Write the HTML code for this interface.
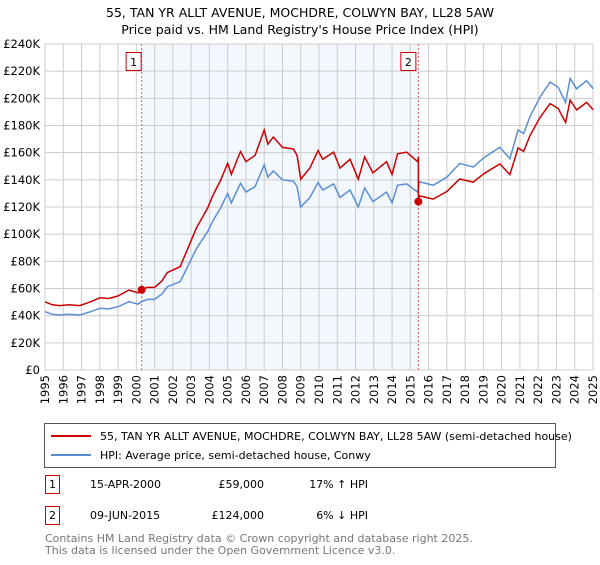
<!DOCTYPE html>
<html><head><meta charset="utf-8"><style>
body{margin:0;background:#fff;font-family:"Liberation Sans","DejaVu Sans",sans-serif}
svg text{font-family:"DejaVu Sans","Liberation Sans",sans-serif}
</style></head><body>
<svg id="c" width="600" height="560" viewBox="0 0 600 560" xmlns="http://www.w3.org/2000/svg">
<text x="300" y="17" text-anchor="middle" font-size="12.5">55, TAN YR ALLT AVENUE, MOCHDRE, COLWYN BAY, LL28 5AW</text>
<text x="300" y="34" text-anchor="middle" font-size="12.5">Price paid vs. HM Land Registry's House Price Index (HPI)</text>
<g id="plot"></g>
<g>
<rect x="44.5" y="423.5" width="511" height="44" fill="#fff" stroke="#555"/>
<line x1="51" y1="436" x2="91" y2="436" stroke="#cc0000" stroke-width="2"/>
<text x="100" y="440" font-size="11">55, TAN YR ALLT AVENUE, MOCHDRE, COLWYN BAY, LL28 5AW (semi-detached house)</text>
<line x1="51" y1="455" x2="91" y2="455" stroke="#5b8fd4" stroke-width="2"/>
<text x="100" y="459" font-size="11">HPI: Average price, semi-detached house, Conwy</text>
</g>
<g font-size="11">
<rect x="45.5" y="475.5" width="14" height="18" fill="#fff" stroke="#cc0000"/>
<text x="52.5" y="488" text-anchor="middle">1</text>
<text x="90" y="488">15-APR-2000</text><text x="264" y="488" text-anchor="end">£59,000</text><text x="368" y="488" text-anchor="end">17% ↑ HPI</text>
<rect x="45.5" y="506.5" width="14" height="18" fill="#fff" stroke="#cc0000"/>
<text x="52.5" y="519" text-anchor="middle">2</text>
<text x="90" y="519">09-JUN-2015</text><text x="264" y="519" text-anchor="end">£124,000</text><text x="368" y="519" text-anchor="end">6% ↓ HPI</text>
</g>
<text x="45" y="542" font-size="11" fill="#777">Contains HM Land Registry data © Crown copyright and database right 2025.</text>
<text x="45" y="554" font-size="11" fill="#777">This data is licensed under the Open Government Licence v3.0.</text>
</svg>
<script>
const hpiYears=[1995.0,1995.4,1995.8,1996.3,1996.9,1997.4,1998.0,1998.5,1999.0,1999.6,2000.1,2000.3,2000.6,2001.0,2001.4,2001.7,2002.4,2002.85,2003.3,2003.9,2004.2,2004.6,2005.0,2005.2,2005.7,2006.0,2006.5,2007.0,2007.2,2007.5,2008.0,2008.6,2008.8,2009.0,2009.5,2009.95,2010.2,2010.8,2011.15,2011.7,2012.15,2012.5,2012.95,2013.7,2014.0,2014.3,2014.8,2015.4,2015.5,2016.25,2017.0,2017.7,2018.45,2019.0,2019.45,2019.9,2020.45,2020.9,2021.2,2021.55,2022.1,2022.65,2023.1,2023.5,2023.75,2024.1,2024.65,2024.9,2025.0];
const hpiValues=[42.9,41,40.5,41,40.5,42.5,45.4,45,46.6,50.3,48.5,50.5,52,52,56,61.3,65,77.3,89.6,101.8,110,119,130,123,137.4,131,135,151,142,146.5,140,139,135,120,127,138,132.5,137,127,132.5,120,134,124,131,123,136,137,131,138.6,136,142,152,149.5,156,160,164,155.5,176.7,174,186.5,201,212,208,197,214.7,207,213,209,207];
const saleYears=[2000.29,2015.44];
const salePrices=[59,124];
const saleLabels=["1","2"];
const yTicks=[0,20,40,60,80,100,120,140,160,180,200,220,240];
const xTicks=[1995,1996,1997,1998,1999,2000,2001,2002,2003,2004,2005,2006,2007,2008,2009,2010,2011,2012,2013,2014,2015,2016,2017,2018,2019,2020,2021,2022,2023,2024,2025];
const NS="http://www.w3.org/2000/svg";
const X0=45,X1=593,Y0=370,Y1=44;
const xs=y=>X0+(y-1995)/30*(X1-X0);
const ys=v=>Y0-v/240*(Y0-Y1);
const g=document.getElementById('plot');
function mk(t,a){const e=document.createElementNS(NS,t);for(const k in a)e.setAttribute(k,a[k]);g.appendChild(e);return e;}
const sh=mk('rect',{x:xs(saleYears[0]),y:Y1,width:xs(saleYears[1])-xs(saleYears[0]),height:Y0-Y1,fill:'#eef3fd',opacity:0.7});


yTicks.forEach(v=>{
 const l=mk('line',{x1:X0,x2:X1,y1:ys(v),y2:ys(v),stroke:'#cccccc'});
 
 
 const t=mk('text',{x:40,y:ys(v)+4,'text-anchor':'end','font-size':'11.5'});
 t.textContent=v===0?'£0':'£'+v+'K';
 
 
});
xTicks.forEach(yr=>{
 const l=mk('line',{x1:xs(yr),x2:xs(yr),y1:Y1,y2:Y0,stroke:'#cccccc'});
 
 
 const t=mk('text',{x:0,y:0,'text-anchor':'end','font-size':'11.5',transform:`translate(${xs(yr)+4},375) rotate(-90)`});
 t.textContent=yr;
 
 
});
const fr=mk('rect',{x:X0,y:Y1,width:X1-X0,height:Y0-Y1,fill:'none',stroke:'#cccccc'});


function hpiAt(y){for(let i=1;i<hpiYears.length;i++){if(y<=hpiYears[i]){const f=(y-hpiYears[i-1])/(hpiYears[i]-hpiYears[i-1]);return hpiValues[i-1]+f*(hpiValues[i]-hpiValues[i-1]);}}return hpiValues[hpiValues.length-1];}
const r1=salePrices[0]/hpiAt(saleYears[0]),r2=salePrices[1]/hpiAt(saleYears[1]);
let redPts=[];
hpiYears.forEach((yr,i)=>{
 if(yr>saleYears[1]&&redPts.length&&!redPts.done){redPts.push([xs(saleYears[1]),ys(hpiAt(saleYears[1])*r1)]);redPts.push([xs(saleYears[1]),ys(salePrices[1])]);redPts.done=1;}
 const r=yr<saleYears[1]?r1:r2;
 redPts.push([xs(yr),ys(hpiValues[i]*r)]);
});
saleYears.forEach((s,i)=>{
 const l=mk('line',{x1:xs(s),x2:xs(s),y1:Y1,y2:Y0,stroke:'#e06060','stroke-dasharray':'2,2'});
 
 
 const b=mk('rect',{x:xs(s)-17.5+(i?0:2),y:52.5,width:15,height:18,fill:'#fff',stroke:'#cc0000'});
 
 
 const t=mk('text',{x:xs(s)-10+(i?0:2),y:66,'text-anchor':'middle','font-size':'11'});
 t.textContent=saleLabels[i];
 
 
});
const hp=mk('polyline',{points:hpiYears.map((y,i)=>xs(y)+','+ys(hpiValues[i])).join(' '),fill:'none',stroke:'#5b8fd4','stroke-width':1.5});


const rp=mk('polyline',{points:redPts.map(p=>p.join(',')).join(' '),fill:'none',stroke:'#cc0000','stroke-width':1.5});


saleYears.forEach((s,i)=>{
 const c=mk('circle',{cx:xs(s),cy:ys(salePrices[i]),r:4,fill:'#cc0000'});
 
 
});
</script>
</body></html>
